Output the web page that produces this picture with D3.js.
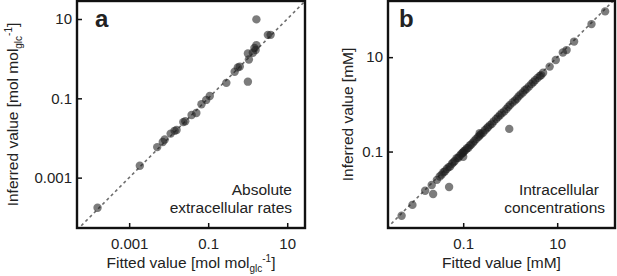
<!DOCTYPE html>
<html>
<head>
<meta charset="utf-8">
<title>fitted vs inferred</title>
<script src="https://cdn.jsdelivr.net/npm/d3@7"></script>
<style>
    body{margin:0;background:#fff;}
    text{font-family:"Liberation Sans",Arial,sans-serif;fill:#222;}
</style>
</head>
<body>
<script>
// values are log10 of the value
var aFittedLog  =[-3.80,-2.73,-2.29,-2.15,-2.10,-1.95,-1.85,-1.80,-1.63,-1.58,-1.42,-1.30,-1.17,-1.05,-0.96,-0.54,-0.33,-0.25,-0.20,0.03,0.005,0.13,0.17,0.20,0.22,0.005,0.22,0.51,0.58]
var aInferredLog=[-3.76,-2.70,-2.23,-2.10,-2.04,-1.89,-1.82,-1.80,-1.60,-1.58,-1.42,-1.37,-1.15,-1.04,-0.94,-0.61,-0.33,-0.22,-0.20,-0.02,0.13,0.15,0.27,0.22,0.34,-0.58,0.99,0.60,0.60]

var bFittedLog  =[-2.31,-2.08,-1.81,-1.67,-1.64,-1.56,-1.30,-1.50,-1.46,-1.42,-1.39,-1.35,-1.31,-1.28,-1.24,-1.21,-1.18,-1.14,-1.11,-1.08,-1.05,-1.02,-1.00,-0.98,-0.95,-0.92,-0.89,-0.86,-0.83,-0.79,-0.76,-0.72,-0.68,-0.65,-0.62,-0.58,-0.54,-0.50,-0.47,-0.43,-0.39,-0.35,-0.30,-0.26,-0.22,-0.18,-0.13,-0.08,-0.04,0.00,0.05,0.10,0.14,0.18,0.22,0.27,0.31,0.35,0.40,0.45,0.49,0.53,0.58,0.63,0.66,0.70,0.84,0.97,1.12,1.20,1.36,1.73,2.02,-0.02,-0.65,-1.00]
var bInferredLog=[-2.36,-2.13,-1.83,-1.71,-1.90,-1.60,-1.75,-1.53,-1.49,-1.44,-1.42,-1.37,-1.33,-1.32,-1.26,-1.23,-1.20,-1.14,-1.14,-1.10,-1.06,-1.03,-1.02,-0.99,-0.97,-0.93,-0.92,-0.87,-0.85,-0.81,-0.77,-0.73,-0.69,-0.66,-0.63,-0.60,-0.55,-0.51,-0.48,-0.44,-0.41,-0.36,-0.31,-0.27,-0.23,-0.19,-0.15,-0.10,-0.05,-0.01,0.04,0.08,0.12,0.17,0.21,0.25,0.30,0.33,0.38,0.43,0.47,0.51,0.56,0.60,0.62,0.67,0.80,0.94,1.10,1.15,1.33,1.70,1.97,-0.52,-0.61,-1.11]

var aTicks=[0.001,0.1,10]
var bTicks=[0.1,10]

var svg=d3.select("body").append("svg")
    .attr("width",617)
    .attr("height",276)

function drawPanel(p){
    var x=d3.scaleLog().domain(p.xDomain).range([p.left,p.right])
    var y=d3.scaleLog().domain(p.yDomain).range([p.bottom,p.top])
    var g=svg.append("g")

    g.append("clipPath").attr("id","clip"+p.letter)
        .append("rect")
        .attr("x",p.left).attr("y",p.top)
        .attr("width",p.right-p.left).attr("height",p.bottom-p.top)

    // dashed identity line
    var lo=Math.min(p.xDomain[0],p.yDomain[0]), hi=Math.max(p.xDomain[1],p.yDomain[1])
    g.append("line")
        .attr("clip-path","url(#clip"+p.letter+")")
        .attr("x1",x(lo)).attr("y1",y(lo))
        .attr("x2",x(hi)).attr("y2",y(hi))
        .attr("stroke","#6e6e6e")
        .attr("stroke-width",1.6)
        .attr("stroke-dasharray","3,3")

    var pts=p.fit.map(function(f,i){return [Math.pow(10,f),Math.pow(10,p.inf[i])]})
    g.append("g").attr("clip-path","url(#clip"+p.letter+")")
        .selectAll("circle")
        .data(pts)
        .join("circle")
        .attr("cx",d=>x(d[0]))
        .attr("cy",d=>y(d[1]))
        .attr("r",4.2)
        .attr("fill","#1e1e1e")
        .attr("fill-opacity",0.58)

    // axes with inward ticks, labels handled by d3
    var xa=g.append("g").attr("transform","translate(0,"+p.bottom+")")
        .call(d3.axisBottom(x).tickValues(p.ticks).tickFormat(d3.format("~g")).tickSizeInner(-5).tickSizeOuter(0).tickPadding(10))
    var ya=g.append("g").attr("transform","translate("+p.left+",0)")
        .call(d3.axisLeft(y).tickValues(p.ticks).tickFormat(d3.format("~g")).tickSizeInner(-5).tickSizeOuter(0).tickPadding(5))
    xa.select(".domain").remove()
    ya.select(".domain").remove()
    g.selectAll(".tick line").attr("stroke","#111").attr("stroke-width",1.5)
    g.selectAll(".tick text").attr("font-size",15).attr("fill","#222")
        .attr("font-family","Liberation Sans, Arial, sans-serif")

    g.append("rect")
        .attr("x",p.left).attr("y",p.top)
        .attr("width",p.right-p.left).attr("height",p.bottom-p.top)
        .attr("fill","none")
        .attr("stroke","#111")
        .attr("stroke-width",2.4)

    g.append("text")
        .attr("x",p.left+p.letterDx).attr("y",27)
        .attr("font-size",24).attr("font-weight","bold").attr("fill","#000")
        .text(p.letter)

    var note=g.append("text").attr("font-size",15.5).attr("text-anchor","end")
    note.append("tspan").attr("x",p.noteX[0]).attr("y",195).text(p.note[0])
    note.append("tspan").attr("x",p.noteX[1]).attr("y",213).text(p.note[1])

    // axis titles
    var xl=g.append("text").attr("x",(p.left+p.right)/2).attr("y",268)
        .attr("text-anchor","middle").attr("font-size",15.5)
    var yl=g.append("text").attr("transform","translate("+p.yLabelX+","+((p.top+p.bottom)/2)+") rotate(-90)")
        .attr("text-anchor","middle").attr("font-size",15.5)
    addUnit(xl,"Fitted value",p.unit)
    addUnit(yl,"Inferred value",p.unit)
}

function addUnit(t,name,unit){
    if(unit=="mM"){
        t.text(name+" [mM]")
        return
    }
    t.append("tspan").text(name+" [mol mol")
    t.append("tspan").attr("font-size",10).attr("dy",4).text("glc")
    t.append("tspan").attr("font-size",10).attr("dy",-10).text("-1")
    t.append("tspan").attr("dy",6).text("]")
}

drawPanel({
    letter:"a",left:77,right:305,top:1,bottom:228,
    xDomain:[Math.pow(10,-4.32),Math.pow(10,1.45)],
    yDomain:[Math.pow(10,-4.27),Math.pow(10,1.454)],
    ticks:aTicks,fit:aFittedLog,inf:aInferredLog,
    letterDx:18,note:["Absolute","extracellular rates"],noteX:[292,292],
    unit:"mol",yLabelX:18
})
drawPanel({
    letter:"b",left:388,right:615,top:1,bottom:228,
    xDomain:[Math.pow(10,-2.60),Math.pow(10,2.23)],
    yDomain:[Math.pow(10,-2.62),Math.pow(10,2.19)],
    ticks:bTicks,fit:bFittedLog,inf:bInferredLog,
    letterDx:11,note:["Intracellular","concentrations"],noteX:[599,605],
    unit:"mM",yLabelX:353
})
</script>
</body>
</html>
